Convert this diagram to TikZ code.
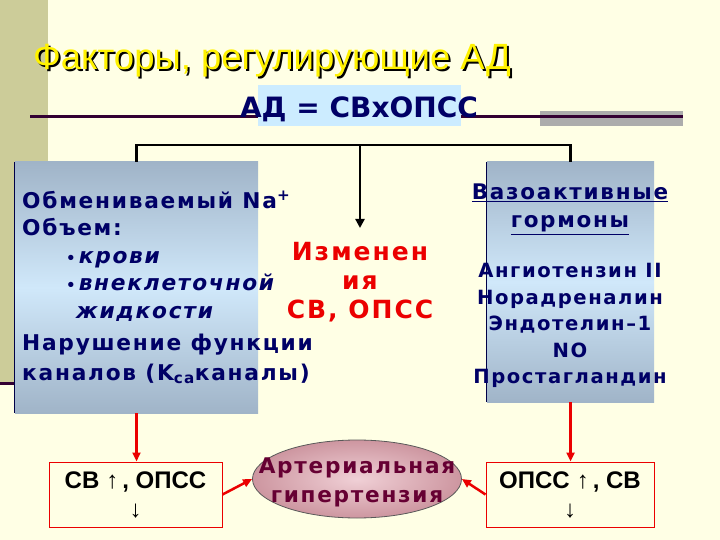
\documentclass[tikz,border=0pt]{standalone}
\usepackage{fontspec}
\setmainfont{DejaVu Sans}
\newfontfamily\titlefont{Liberation Sans}
\newfontfamily\widefont[LetterSpace=8]{DejaVu Sans}
\newfontfamily\arialfont{Liberation Sans}
\usetikzlibrary{shapes.geometric, arrows.meta, positioning}

\definecolor{bgcream}{RGB}{255,255,229}
\definecolor{stripe}{RGB}{204,204,153}
\definecolor{rule}{RGB}{51,0,51}
\definecolor{navy}{RGB}{0,0,102}
\definecolor{boxedge}{RGB}{160,180,200}
\definecolor{boxmid}{RGB}{208,232,250}
\definecolor{formulabg}{RGB}{204,236,255}
\definecolor{alarm}{RGB}{235,0,0}
\definecolor{maroon}{RGB}{102,0,51}
\definecolor{pinkin}{RGB}{240,208,214}
\definecolor{pinkout}{RGB}{205,150,160}

\newcommand{\shadowed}[1]{\makebox[0pt][l]{\hspace{2pt}\raisebox{-2pt}{\color{black}#1}}#1}

\begin{document}
\begin{tikzpicture}[x=1pt, y=-1pt,
    panel/.style={rectangle, inner sep=0pt, top color=boxedge, bottom color=boxedge, middle color=boxmid},
    bodytext/.style={inner sep=0pt, text=navy, font=\widefont\bfseries\fontsize{21.7}{27.5}\selectfont},
    result/.style={rectangle, draw=alarm, line width=1pt, inner sep=0pt, minimum width=173pt, minimum height=65pt,
        align=center, font=\arialfont\bfseries\fontsize{24}{29}\selectfont},
    bracket/.style={line width=2.5pt, draw=black},
    redarrow/.style={-{Triangle[length=9pt,width=8pt]}, line width=2.5pt, draw=alarm}
]
\useasboundingbox (0,0) rectangle (720,540);
\fill[bgcream] (0,0) rectangle (720,540);

% template decoration
\fill[stripe] (0,0) rectangle (48,383);
\draw[rule, line width=3pt] (0,383) -- (20,383);
\fill[gray!65] (540,111) rectangle (683,126);
\draw[rule, line width=3pt] (30,117) -- (683,117);

% title and formula
\node[anchor=base west, inner sep=0pt, text=yellow, font=\titlefont\fontsize{36.5}{40}\selectfont] (title) at (33,70)
    {\shadowed{Факторы, регулирующие АД}};
\fill[formulabg] (258,85) rectangle (461,126);
\node[anchor=base, inner sep=0pt, text=navy, font=\bfseries\fontsize{28}{32}\selectfont] (formula) at (359,118) {АД = СВхОПСС};

% boxes
\node[panel, minimum width=243pt, minimum height=251pt] (leftbox) at (136.5,287.5) {};
\node[panel, minimum width=167pt, minimum height=240pt] (rightbox) at (570.5,282) {};
\draw[navy!70!black, line width=1pt] (leftbox.north west) -- (leftbox.south west);
\draw[navy!70!black, line width=1pt] (rightbox.north west) -- (rightbox.south west);

\node[bodytext, anchor=north west, align=left] (factors) at (22,191)
    {Обмениваемый Na\textsuperscript{+}\\
     Объем:\\
     \hspace*{44pt}{\fontsize{15}{15}\selectfont•}\hspace{3pt}\textit{крови}\\
     \hspace*{44pt}{\fontsize{15}{15}\selectfont•}\hspace{3pt}\textit{внеклеточной}\\
     \hspace*{54pt}\textit{жидкости}\\[5pt]
     Нарушение функции\\[2pt]
     каналов (K\textsubscript{ca}каналы)};

\node[bodytext, anchor=north, align=center, font=\widefont\bfseries\fontsize{19.6}{26.5}\selectfont] (hormones) at (570,184)
    {{\fontsize{21.5}{26.5}\selectfont\underline{Вазоактивные}}\\[1.5pt]
     {\fontsize{21.5}{26.5}\selectfont\underline{гормоны}}\\[23.5pt]
     Ангиотензин II\\
     Норадреналин\\
     Эндотелин–1\\
     NO\\
     Простагландин};

\node[anchor=north, inner sep=0pt, align=center, text=alarm, font=\widefont\bfseries\fontsize{25}{29}\selectfont] (change) at (360,242)
    {Изменен\\ ия\\ СВ, ОПСС};

% bottom row
\node[result] (svbox) at (135.5,494.5) {СВ\hspace{7pt}{\mdseries↑}\hspace{4pt}, ОПСС\\ {\mdseries↓}};
\node[result, minimum width=168pt] (opssbox) at (570,494.5) {ОПСС\hspace{7pt}{\mdseries↑}\hspace{4pt}, СВ\\ {\mdseries↓}};
\node[ellipse, draw=gray!70!black, line width=0.8pt, inner color=pinkin, outer color=pinkout,
    minimum width=209pt, minimum height=78pt, inner sep=0pt] (ahyp) at (357,479) {};
\node[inner sep=0pt, align=center, text=maroon, font=\widefont\bfseries\fontsize{21.6}{29}\selectfont] (ahyptext) at (357,482)
    {Артериальная\\ гипертензия};

% connectors
\coordinate (split) at (360,145);
\draw[bracket] (leftbox.north) |- (split) -| (rightbox.north);
\draw[bracket, -{Triangle[length=9pt,width=9pt]}, shorten >=14pt] (split) -- (change.north);
\draw[redarrow] (leftbox.south) -- (leftbox.south |- svbox.north);
\draw[redarrow] (rightbox.south) -- (rightbox.south |- opssbox.north);
\draw[redarrow] (svbox.east) -- (ahyp.west);
\draw[redarrow] (opssbox.west) -- (ahyp.east);
\end{tikzpicture}
\end{document}
